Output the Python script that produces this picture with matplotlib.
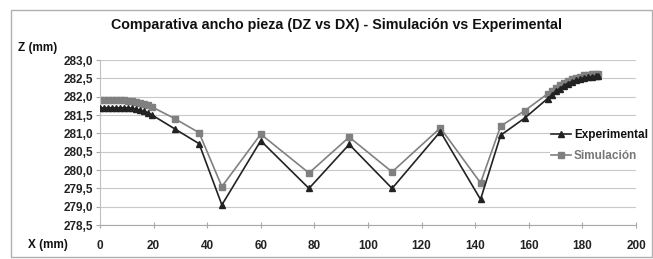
import matplotlib
matplotlib.use("Agg")
import matplotlib.pyplot as plt
from matplotlib.patches import Rectangle
from matplotlib.ticker import FuncFormatter, MultipleLocator

plt.rcParams['font.family'] = ['Liberation Sans', 'DejaVu Sans']

# datos
x_exp = [0, 1.5, 3, 4.5, 6, 7.5, 9, 10.5, 12, 13.5, 15, 16.5, 18, 19.5,
         28, 37, 45.5, 60, 78, 93, 109, 127, 142, 149.5, 158.5,
         167, 168.5, 170, 171.5, 173, 174.5, 176, 177.5, 179, 180.5, 182, 183.5, 185, 186]
z_exp = [281.7, 281.7, 281.7, 281.7, 281.7, 281.7, 281.7, 281.7, 281.69, 281.66, 281.63, 281.6, 281.55, 281.5,
         281.12, 280.72, 279.05, 280.8, 279.5, 280.7, 279.5, 281.05, 279.2, 280.95, 281.42,
         281.95, 282.05, 282.15, 282.22, 282.3, 282.36, 282.41, 282.45, 282.48, 282.51, 282.53, 282.55, 282.56, 282.56]

x_sim = x_exp
z_sim = [281.9, 281.9, 281.9, 281.9, 281.9, 281.9, 281.9, 281.89, 281.88, 281.86, 281.84, 281.81, 281.77, 281.72,
         281.4, 281.02, 279.55, 280.98, 279.92, 280.9, 279.95, 281.15, 279.65, 281.2, 281.62,
         282.08, 282.17, 282.25, 282.32, 282.38, 282.43, 282.48, 282.52, 282.55, 282.58, 282.6, 282.61, 282.62, 282.62]

fig = plt.figure(figsize=(6.53, 2.59), dpi=100)
# marco del grafico
fig.patches.append(Rectangle((0.017, 0.008), 0.981, 0.953, transform=fig.transFigure,
                             fill=False, edgecolor='#b0b0b0', linewidth=1))
ax = fig.add_axes([0.153, 0.131, 0.821, 0.637])

ax.plot(x_exp, z_exp, color='#222222', linewidth=1.2, marker='^', markersize=4.6,
        label='Experimental', zorder=3)
ax.plot(x_sim, z_sim, color='#808080', linewidth=1.2, marker='s', markersize=4.2,
        label='Simulación', zorder=2)

ax.set_xlim(0, 200)
ax.set_ylim(278.5, 283.0)
ax.xaxis.set_major_locator(MultipleLocator(20))
ax.yaxis.set_major_locator(MultipleLocator(0.5))
ax.yaxis.set_major_formatter(FuncFormatter(lambda v, p: f'{v:.1f}'.replace('.', ',')))
ax.grid(axis='y', color='#c8c8c8', linewidth=0.8)
ax.set_axisbelow(True)
for s in ['top', 'right']:
    ax.spines[s].set_visible(False)
ax.spines['left'].set_color('#c0c0c0')
ax.spines['bottom'].set_color('#a8a8a8')
ax.tick_params(axis='both', colors='#a8a8a8', labelcolor='#222222', labelsize=8.5)
ax.tick_params(axis='x', direction='inout', length=4, pad=9)
ax.tick_params(axis='y', length=3, pad=2)
for lbl in ax.get_xticklabels() + ax.get_yticklabels():
    lbl.set_fontweight('bold')

fig.text(0.516, 0.903, 'Comparativa ancho pieza (DZ vs DX) - Simulación vs Experimental',
         ha='center', va='center', fontsize=10.3, fontweight='bold', color='#111111')
fig.text(0.028, 0.815, 'Z (mm)', ha='left', va='center', fontsize=8.5, fontweight='bold', color='#111111')
fig.text(0.043, 0.054, 'X (mm)', ha='left', va='center', fontsize=8.5, fontweight='bold', color='#111111')

leg = ax.legend(loc='center left', bbox_to_anchor=(0.84, 0.48), frameon=True,
                facecolor='white', edgecolor='none', framealpha=1, fancybox=False,
                fontsize=8.5, handlelength=1.7, handletextpad=0.2, labelspacing=0.75,
                borderaxespad=0, borderpad=0.1)
for t in leg.get_texts():
    t.set_fontweight('bold')
leg.get_texts()[0].set_color('#111111')
leg.get_texts()[1].set_color('#777777')

fig.savefig('out.png', dpi=100)
